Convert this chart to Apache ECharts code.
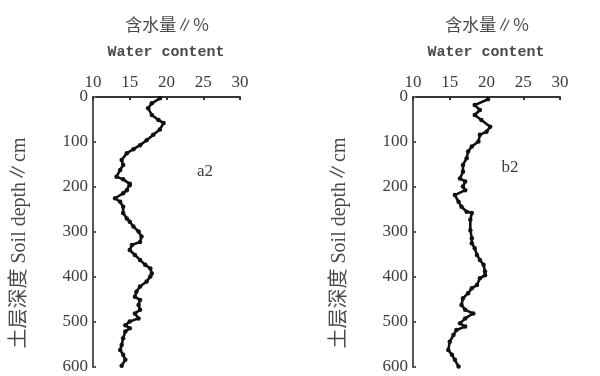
<!DOCTYPE html>
<html>
<head>
<meta charset="utf-8">
<script src="https://cdn.jsdelivr.net/npm/echarts@6/dist/echarts.min.js"></script>
<style>html,body{margin:0;padding:0;background:#fff}#c{width:600px;height:376px}</style>
</head>
<body>
<div id="c"></div>
<script>
// Water content profile a2
var depthA = [3,14,25,40,51,58,72,84,96,107,116,125,140,151,162,177,183,193,
  196,207,214,225,233,244,258,270,277,288,299,310,322,329,340,351,362,373,381,392,
  399,410,421,433,444,451,462,473,481,492,499,507,514,521,536,551,562,573,584,597];
var valueA = [19.1,18.0,17.5,18.0,18.9,19.6,19.1,18.2,17.3,16.4,15.5,14.6,13.9,14.1,13.7,13.2,14.1,15.0,
  15.0,14.6,14.1,13.0,13.7,14.1,14.1,14.6,15.0,15.5,16.2,16.6,16.4,15.3,15.0,15.7,16.4,17.1,17.8,18.0,
  17.8,17.3,16.4,15.9,15.7,16.4,16.2,16.4,15.7,16.2,15.0,14.4,15.0,14.4,14.1,13.9,13.7,14.1,14.4,13.9];
// Water content profile b2
var depthB = [5,18,29,40,51,66,77,84,99,110,121,136,151,166,181,
  188,199,207,218,233,244,255,258,273,296,314,325,336,351,362,373,388,
  396,403,418,425,436,447,462,473,481,492,503,510,518,529,544,562,573,584,599];
var valueB = [20.2,18.4,19.1,18.4,19.3,20.5,20.0,19.1,18.9,18.0,17.5,17.3,16.8,16.8,16.4,
  17.1,16.8,17.1,15.7,16.2,16.6,17.3,18.0,17.8,17.8,18.0,18.0,18.4,18.7,19.1,19.6,19.8,
  19.8,19.1,18.7,18.0,17.5,16.8,16.6,17.1,18.2,17.1,16.4,17.1,15.9,15.5,15.0,14.8,15.3,15.7,16.2];
var xTicks = [10, 15, 20, 25, 30];
var depthTicks = [0, 100, 200, 300, 400, 500, 600];
var panelLabels = ['a2', 'b2'];
var titleCn = '含水量∥%';
var titleEn = 'Water content';
var yTitle = '土层深度 Soil depth∥cm';

function pairs(d, v) { return d.map(function (dd, i) { return [v[i], dd]; }); }

var chart = echarts.init(document.getElementById('c'), null, {renderer: 'canvas'});
var axisColor = '#333';
var labelColor = '#3c3c3c';
var serif = '"Liberation Serif","DejaVu Serif",serif';

function xAx(i) {
  return {
    gridIndex: i, type: 'value', position: 'top',
    min: xTicks[0], max: xTicks[xTicks.length - 1], interval: xTicks[1] - xTicks[0],
    axisLine: {show: true, onZero: false, lineStyle: {color: axisColor, width: 2}},
    axisTick: {show: true, inside: true, length: 3, lineStyle: {color: axisColor, width: 2}},
    axisLabel: {color: labelColor, fontFamily: serif, fontSize: 17, margin: 6},
    splitLine: {show: false}
  };
}
function yAx(i) {
  return {
    gridIndex: i, type: 'value', inverse: true,
    min: depthTicks[0], max: depthTicks[depthTicks.length - 1], interval: depthTicks[1] - depthTicks[0],
    axisLine: {show: true, onZero: false, lineStyle: {color: '#555', width: 2}},
    axisTick: {show: true, inside: true, length: 3, lineStyle: {color: '#555', width: 2}},
    axisLabel: {color: labelColor, fontFamily: serif, fontSize: 17, margin: 5},
    splitLine: {show: false}
  };
}
function ser(i, d, v) {
  return {
    type: 'line', xAxisIndex: i, yAxisIndex: i, data: pairs(d, v),
    symbol: 'circle', symbolSize: 4.5, showSymbol: true,
    itemStyle: {color: '#111'}, lineStyle: {color: '#111', width: 2.6},
    animation: false
  };
}
var lefts = [93, 413];
var graphics = [];
lefts.forEach(function (l, i) {
  graphics.push({type: 'text', x: l + 74, y: 25, style: {text: titleCn, font: '17px "Noto Sans CJK SC"', fill: '#4a4a4a', align: 'center', verticalAlign: 'middle'}});
  graphics.push({type: 'text', x: l + 73, y: 52, style: {text: titleEn, font: 'bold 15px "Liberation Mono",monospace', fill: '#4a4a4a', align: 'center', verticalAlign: 'middle'}});
  graphics.push({type: 'text', x: l - 73, y: 243, rotation: Math.PI / 2, style: {text: yTitle, font: '20px "Liberation Serif","Noto Sans CJK SC",serif', fill: '#4a4a4a', align: 'center', verticalAlign: 'middle'}});
  graphics.push({type: 'text', x: l + 112 - (i ? 15 : 0), y: i ? 168 : 172, style: {text: panelLabels[i], font: '17px ' + serif, fill: '#3c3c3c', align: 'center', verticalAlign: 'middle'}});
});

chart.setOption({
  animation: false,
  backgroundColor: '#fff',
  grid: [
    {left: lefts[0], top: 97, width: 147, height: 270},
    {left: lefts[1], top: 97, width: 147, height: 270}
  ],
  xAxis: [xAx(0), xAx(1)],
  yAxis: [yAx(0), yAx(1)],
  series: [ser(0, depthA, valueA), ser(1, depthB, valueB)],
  graphic: graphics
});
</script>
</body>
</html>
